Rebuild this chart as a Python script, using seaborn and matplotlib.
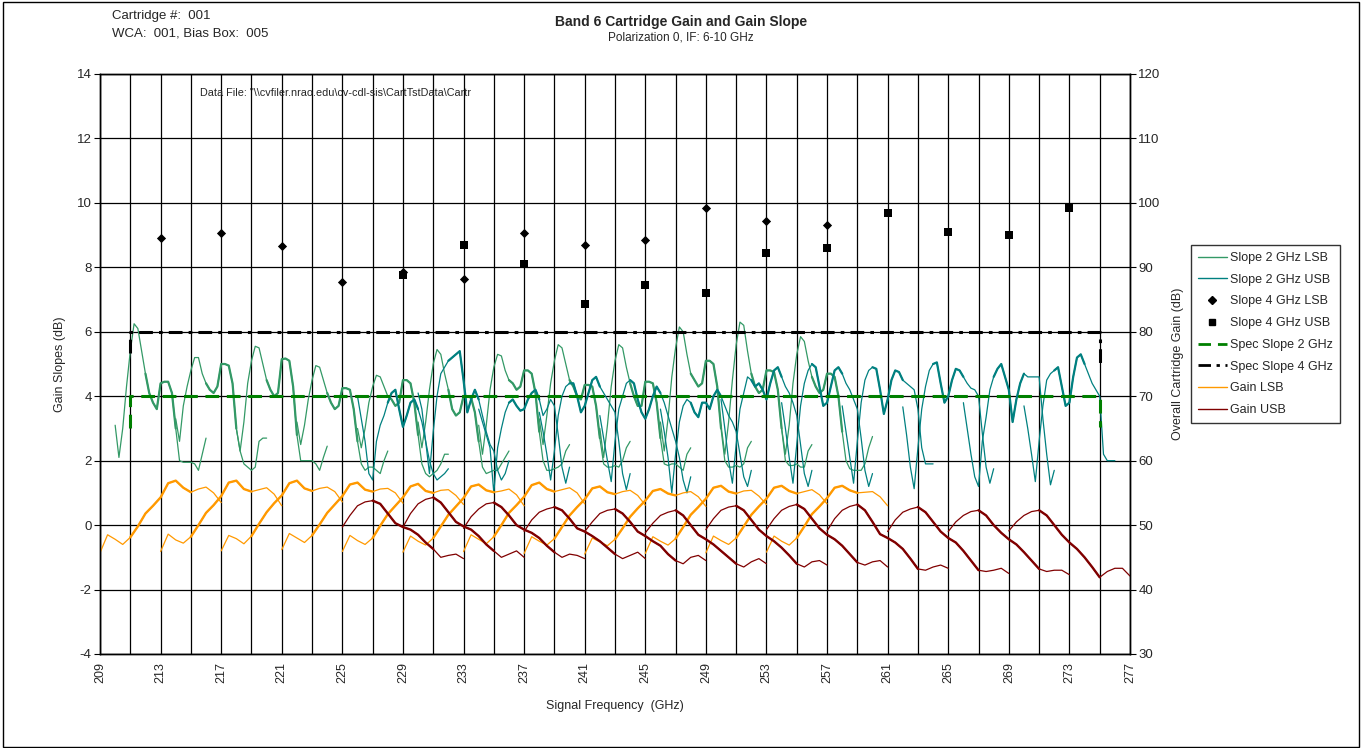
import pandas as pd
import seaborn as sns
import matplotlib.pyplot as plt
from matplotlib.lines import Line2D
from matplotlib.patches import Rectangle

sns.set_style('white')
plt.rcParams['font.family'] = ['Liberation Sans', 'DejaVu Sans']
plt.rcParams['axes.unicode_minus'] = False

# LO settings (GHz); LSB = LO - IF, USB = LO + IF
lo_ghz = [221, 225, 229, 233, 237, 241, 245, 249, 253, 257, 261, 265]

# IF points, listed so that the signal frequency increases along each list
if_gain_lsb = [12.0, 11.5, 11.0, 10.5, 10.0, 9.5, 9.0, 8.5, 8.0, 7.5, 7.0, 6.5, 6.0, 5.5, 5.0, 4.5, 4.0]
if_gain_usb = [4.0, 4.5, 5.0, 5.5, 6.0, 6.5, 7.0, 7.5, 8.0, 8.5, 9.0, 9.5, 10.0, 10.5, 11.0, 11.5, 12.0]
if_slope_lsb = [11.0, 10.75, 10.5, 10.25, 10.0, 9.75, 9.5, 9.25, 9.0, 8.75, 8.5, 8.25, 8.0,
                7.75, 7.5, 7.25, 7.0, 6.75, 6.5, 6.25, 6.0, 5.75, 5.5, 5.25, 5.0]
if_slope_usb = [5.0, 5.25, 5.5, 5.75, 6.0, 6.25, 6.5, 6.75, 7.0, 7.25, 7.5, 7.75, 8.0,
                8.25, 8.5, 8.75, 9.0, 9.25, 9.5, 9.75, 10.0, 10.25, 10.5, 10.75, 11.0]

# overall cartridge gain (dB), one list per LO
gain_lsb = [
    [45.7, 48.5, 47.8, 47.0, 48.1, 49.8, 51.8, 53.0, 54.3, 56.5, 56.9, 55.8, 55.1, 55.6, 55.9, 55.0, 53.5],
    [45.9, 48.6, 47.7, 47.2, 48.2, 50.0, 51.9, 53.1, 54.5, 56.6, 56.9, 55.6, 55.2, 55.5, 55.8, 54.8, 53.0],
    [46.0, 48.4, 47.9, 47.1, 48.3, 50.2, 52.0, 53.4, 54.6, 56.5, 56.9, 55.7, 55.3, 55.7, 55.9, 55.2, 53.6],
    [46.2, 48.7, 48.0, 47.3, 48.4, 50.1, 51.9, 53.2, 54.5, 56.3, 56.6, 55.5, 55.2, 55.6, 55.7, 55.0, 53.4],
    [45.9, 48.4, 47.6, 47.0, 48.0, 49.9, 51.7, 53.0, 54.3, 56.0, 56.4, 55.3, 55.0, 55.4, 55.5, 54.6, 53.2],
    [45.8, 48.3, 47.5, 46.9, 48.0, 49.8, 51.6, 52.9, 54.2, 56.0, 56.3, 55.4, 55.1, 55.3, 55.6, 54.7, 53.0],
    [45.9, 48.5, 47.8, 47.1, 48.2, 50.0, 51.9, 53.1, 54.4, 56.2, 56.6, 55.6, 55.2, 55.5, 55.8, 55.0, 53.3],
    [45.6, 48.2, 47.5, 46.9, 47.9, 49.7, 51.5, 52.8, 54.0, 55.7, 56.0, 55.1, 54.8, 55.2, 55.4, 54.6, 53.1],
    [45.5, 48.0, 47.4, 46.8, 47.8, 49.5, 51.3, 52.6, 53.8, 55.3, 55.6, 54.9, 54.6, 55.0, 55.2, 54.4, 52.9],
    [45.6, 48.2, 47.5, 46.9, 47.9, 49.7, 51.6, 52.8, 54.1, 55.8, 56.1, 55.2, 54.9, 55.3, 55.4, 54.5, 53.2],
    [45.7, 48.3, 47.6, 47.0, 48.0, 49.8, 51.6, 52.9, 54.1, 55.8, 56.1, 55.3, 54.9, 55.2, 55.5, 54.7, 53.3],
    [45.8, 48.3, 47.5, 46.9, 48.0, 49.8, 51.7, 52.9, 54.2, 55.8, 56.1, 55.4, 55.0, 55.1, 55.2, 54.4, 53.0],
]
gain_usb = [
    [49.7, 51.5, 53.0, 53.6, 53.8, 53.3, 51.8, 50.3, 49.7, 49.3, 48.5, 47.3, 46.3, 45.0, 45.3, 45.5, 44.8],
    [49.7, 51.8, 53.3, 54.0, 54.3, 53.5, 52.0, 50.5, 49.8, 49.3, 48.3, 47.0, 46.0, 45.0, 45.5, 46.0, 45.0],
    [49.5, 51.3, 52.5, 53.3, 53.5, 52.8, 51.5, 50.0, 49.3, 48.8, 48.0, 46.8, 45.8, 45.0, 45.5, 45.3, 44.8],
    [49.0, 50.8, 52.0, 52.5, 52.8, 52.3, 51.0, 49.5, 49.0, 48.3, 47.5, 46.5, 45.5, 44.8, 45.3, 45.8, 44.8],
    [49.0, 50.5, 51.8, 52.3, 52.5, 51.8, 50.5, 49.0, 48.3, 47.5, 46.8, 45.5, 44.5, 44.0, 45.0, 45.3, 44.5],
    [48.8, 50.3, 51.5, 52.0, 52.3, 51.5, 50.0, 48.5, 47.8, 47.0, 46.0, 45.0, 44.0, 43.5, 44.3, 44.8, 44.0],
    [49.3, 51.0, 52.3, 52.8, 53.0, 52.3, 50.8, 49.3, 48.3, 47.5, 46.5, 45.3, 44.0, 43.5, 44.3, 44.5, 43.8],
    [49.3, 51.0, 52.3, 52.9, 53.2, 52.5, 51.0, 49.5, 48.5, 47.8, 46.8, 45.5, 44.2, 43.8, 44.3, 44.5, 43.5],
    [49.1, 51.0, 52.3, 52.9, 53.2, 52.3, 50.5, 48.6, 48.0, 47.3, 46.3, 44.8, 43.2, 43.0, 43.5, 43.8, 43.3],
    [49.0, 50.8, 52.0, 52.5, 52.8, 52.0, 50.5, 49.0, 48.0, 47.3, 46.0, 44.5, 43.0, 42.8, 43.0, 43.3, 42.5],
    [49.0, 50.5, 51.5, 52.1, 52.3, 51.5, 50.0, 48.8, 47.8, 47.0, 45.8, 44.5, 43.2, 42.8, 43.0, 43.0, 42.3],
    [49.1, 50.5, 51.5, 52.1, 52.3, 51.5, 50.0, 48.5, 47.3, 46.3, 45.0, 43.5, 41.9, 42.8, 43.3, 43.3, 42.1],
]

# gain slope over 2 GHz (dB), one list per LO
slope2_lsb = [
    [3.1, 2.1, 3.0, 4.3, 5.4, 6.25, 6.1, 5.4, 4.7, 4.1, 3.8, 3.6, 4.4, 4.45, 4.45, 4.1, 3.0, 2.0, 1.95, 1.95, 1.95, 1.9, 1.7, 2.2, 2.7],
    [3.3, 2.6, 3.7, 4.3, 4.8, 5.2, 5.2, 4.7, 4.4, 4.2, 4.1, 4.3, 5.0, 5.0, 4.95, 4.4, 3.0, 2.3, 1.9, 1.8, 1.7, 1.8, 2.6, 2.7, 2.7],
    [3.0, 2.3, 3.2, 4.4, 5.1, 5.55, 5.5, 5.0, 4.5, 4.2, 4.0, 4.1, 5.15, 5.17, 5.1, 4.3, 2.8, 2.0, 2.0, 2.0, 2.0, 1.9, 1.7, 2.1, 2.45],
    [3.2, 2.5, 3.1, 3.9, 4.5, 4.95, 4.9, 4.5, 4.1, 3.8, 3.6, 3.7, 4.25, 4.25, 4.2, 3.6, 2.6, 1.9, 1.7, 1.8, 1.8, 1.7, 1.6, 2.0, 2.3],
    [3.0, 2.4, 3.0, 3.8, 4.3, 4.65, 4.6, 4.3, 4.0, 3.9, 3.7, 3.8, 4.5, 4.5, 4.4, 3.8, 2.8, 1.9, 1.6, 1.5, 1.6, 1.7, 1.9, 2.2, 2.2],
    [3.2, 2.4, 3.2, 4.2, 5.0, 5.45, 5.3, 4.7, 4.2, 3.6, 3.4, 3.5, 4.0, 4.0, 3.95, 3.5, 2.6, 1.8, 1.6, 1.65, 1.7, 1.7, 1.9, 2.1, 2.3],
    [3.1, 2.2, 3.1, 4.2, 4.9, 5.3, 5.25, 4.8, 4.5, 4.4, 4.2, 4.3, 4.8, 4.8, 4.7, 4.1, 2.9, 2.0, 1.7, 1.7, 1.75, 1.8, 1.9, 2.3, 2.5],
    [3.3, 2.5, 3.4, 4.4, 5.1, 5.6, 5.5, 5.0, 4.5, 4.3, 4.0, 3.9, 4.35, 4.35, 4.3, 3.7, 2.7, 1.9, 1.8, 1.8, 1.85, 1.8, 2.0, 2.4, 2.6],
    [3.0, 2.1, 3.1, 4.3, 5.1, 5.6, 5.5, 4.9, 4.4, 4.0, 3.7, 3.7, 4.45, 4.45, 4.4, 3.8, 2.7, 1.9, 1.85, 1.9, 1.9, 1.8, 1.7, 2.2, 2.4],
    [3.2, 2.3, 3.3, 4.6, 5.5, 6.15, 6.0, 5.3, 4.7, 4.5, 4.3, 4.4, 5.1, 5.1, 5.0, 4.3, 3.0, 2.0, 1.8, 1.8, 1.85, 1.8, 1.9, 2.4, 2.6],
    [3.1, 2.2, 3.2, 4.5, 5.6, 6.3, 6.2, 5.4, 4.7, 4.3, 4.1, 4.2, 4.8, 4.8, 4.75, 4.2, 3.0, 2.0, 1.85, 1.85, 1.9, 1.8, 1.8, 2.3, 2.5],
    [3.0, 2.2, 3.1, 4.4, 5.3, 5.85, 5.7, 5.1, 4.6, 4.3, 4.1, 4.2, 4.7, 4.7, 4.6, 4.0, 2.9, 2.0, 1.75, 1.7, 1.7, 1.7, 1.9, 2.4, 2.75],
]
slope2_usb = [
    [4.0, 3.3, 2.6, 1.6, 1.4, 2.6, 3.1, 3.4, 3.8, 4.1, 4.2, 3.6, 3.05, 3.4, 3.8, 3.9, 3.6, 3.2, 2.6, 2.0, 1.6, 1.4, 1.5, 1.6, 1.75],
    [4.1, 3.6, 2.6, 1.6, 2.9, 4.0, 4.7, 4.9, 5.1, 5.2, 5.3, 5.4, 4.5, 3.5, 3.9, 4.2, 3.9, 3.4, 2.9, 2.5, 2.3, 1.7, 1.4, 1.6, 2.0],
    [3.6, 3.2, 2.8, 2.4, 1.0, 2.4, 3.0, 3.5, 3.8, 3.9, 3.7, 3.55, 3.6, 3.9, 4.1, 4.2, 3.9, 3.4, 3.6, 3.9, 3.7, 2.8, 1.8, 1.3, 1.8],
    [3.5, 2.9, 2.2, 1.4, 2.3, 3.4, 4.0, 4.3, 4.4, 4.4, 4.0, 3.5, 3.7, 4.1, 4.5, 4.6, 4.3, 4.1, 3.9, 3.7, 3.5, 2.6, 1.6, 1.1, 1.6],
    [3.4, 2.7, 2.0, 1.35, 2.6, 3.6, 4.0, 4.4, 4.5, 4.4, 3.9, 3.5, 3.3, 3.6, 4.0, 4.3, 4.1, 3.8, 3.4, 3.0, 2.6, 2.1, 1.4, 1.0, 1.5],
    [3.6, 2.9, 2.1, 1.0, 2.2, 3.2, 3.7, 3.9, 3.8, 3.5, 3.35, 3.8, 3.8, 3.6, 4.0, 4.2, 4.0, 3.7, 3.4, 3.2, 2.9, 2.2, 1.5, 1.2, 1.7],
    [3.9, 3.0, 2.0, 1.3, 2.5, 3.6, 4.1, 4.6, 4.5, 4.3, 4.4, 4.2, 3.9, 4.4, 4.8, 4.9, 4.6, 4.3, 4.1, 3.8, 3.4, 2.5, 1.6, 1.2, 1.7],
    [3.8, 3.0, 2.1, 1.3, 2.5, 3.7, 4.4, 4.8, 5.0, 4.9, 4.3, 3.7, 3.8, 4.3, 4.8, 4.9, 4.7, 4.4, 4.2, 3.9, 3.6, 2.7, 1.7, 1.2, 1.6],
    [3.7, 2.9, 2.1, 1.3, 2.6, 3.8, 4.5, 4.8, 4.9, 4.85, 4.2, 3.45, 3.9, 4.5, 4.8, 4.75, 4.5, 4.4, 4.3, 4.2, 3.6, 2.4, 1.9, 1.9, 1.9],
    [3.67, 2.8, 1.8, 1.13, 2.4, 3.6, 4.3, 4.8, 5.0, 5.05, 4.4, 3.8, 4.0, 4.5, 4.85, 4.8, 4.6, 4.4, 4.25, 4.2, 4.0, 2.85, 1.8, 1.3, 1.75],
    [3.8, 3.0, 2.2, 1.5, 1.2, 2.6, 3.35, 4.2, 4.6, 4.85, 5.0, 4.6, 4.2, 3.2, 3.9, 4.4, 4.7, 4.6, 4.6, 4.6, 4.6, 3.3, 2.2, 1.25, 1.7],
    [3.7, 3.0, 2.2, 1.35, 2.6, 3.7, 4.5, 4.7, 4.8, 4.9, 4.3, 3.7, 3.8, 4.6, 5.2, 5.3, 5.0, 4.7, 4.4, 4.2, 4.0, 2.2, 2.0, 2.0, 2.0],
]

# gain slope over 4 GHz (dB), one value per LO (at IF 8 GHz)
slope4_lsb = [8.9, 9.05, 8.65, 7.55, 7.85, 7.65, 9.05, 8.7, 8.85, 9.85, 9.45, 9.3]
slope4_usb = [7.75, 8.7, 8.1, 6.85, 7.45, 7.2, 8.45, 8.6, 9.7, 9.1, 9.0, 9.85]
slope4_if = 8.0

# spec lines
spec2_x = [211, 211, 275, 275]
spec2_y = [3.0, 4.0, 4.0, 3.05]
spec4_x = [211, 211, 275, 275]
spec4_y = [5.35, 6.0, 6.0, 5.0]

xticks = list(range(209, 278, 4))
xgrid = list(range(211, 276, 4))


def long_table(values, if_list, sign):
    rows = []
    for lo, vals in zip(lo_ghz, values):
        for f, v in zip(if_list, vals):
            rows.append({'lo': lo, 'if': f, 'rf': lo + sign * f, 'val': v})
    return pd.DataFrame(rows)


def draw(ax, df, color, band, lw_thin, lw_thick):
    # whole sweep thin, the in-band part drawn again thicker
    sns.lineplot(data=df, x='rf', y='val', units='lo', estimator=None, sort=False,
                 color=color, lw=lw_thin, ax=ax, legend=False)
    sub = df[(df['if'] >= band[0]) & (df['if'] <= band[1])]
    sns.lineplot(data=sub, x='rf', y='val', units='lo', estimator=None, sort=False,
                 color=color, lw=lw_thick, ax=ax, legend=False)


c_s_lsb, c_s_usb = '#339966', '#008080'
c_g_lsb, c_g_usb = '#FF9900', '#800000'
ls_spec2 = (0, (4.5, 2.5))
ls_spec4 = (0, (4.5, 2, 1.2, 2))

fig = plt.figure(figsize=(13.62, 7.48), dpi=100)
ax = fig.add_axes([100 / 1362, 1 - 654 / 748, 1030 / 1362, 580 / 748])
ax2 = ax.twinx()

draw(ax, long_table(slope2_lsb, if_slope_lsb, -1), c_s_lsb, (7, 9), 0.9, 1.6)
draw(ax, long_table(slope2_usb, if_slope_usb, 1), c_s_usb, (7, 9), 0.9, 1.6)

ax.plot(spec2_x, spec2_y, color='#008000', lw=2.2, ls=ls_spec2)
ax.plot(spec4_x, spec4_y, color='black', lw=2.2, ls=ls_spec4)

s4 = pd.DataFrame({'rf': [lo - slope4_if for lo in lo_ghz], 'val': slope4_lsb})
sns.scatterplot(data=s4, x='rf', y='val', marker='D', s=22, color='black',
                edgecolor='black', linewidth=0, ax=ax, legend=False, zorder=5)
s4u = pd.DataFrame({'rf': [lo + slope4_if for lo in lo_ghz], 'val': slope4_usb})
sns.scatterplot(data=s4u, x='rf', y='val', marker='s', s=28, color='black',
                edgecolor='black', linewidth=0, ax=ax, legend=False, zorder=5)

draw(ax2, long_table(gain_lsb, if_gain_lsb, -1), c_g_lsb, (6, 10), 0.9, 1.7)
draw(ax2, long_table(gain_usb, if_gain_usb, 1), c_g_usb, (6, 10), 0.9, 1.7)

ax.set_xlim(209, 277)
ax.set_ylim(-4, 14)
ax2.set_ylim(30, 120)
ax.set_xticks(xticks)
ax.set_xticks(xgrid, minor=True)
ax.set_yticks(range(-4, 15, 2))
ax2.set_yticks(range(30, 121, 10))
ax.grid(axis='x', which='both', color='black', lw=0.9)
ax.grid(axis='y', which='major', color='black', lw=0.9)
ax.set_axisbelow(True)
ax.tick_params(axis='x', which='major', labelrotation=90, length=4, width=0.8,
               color='black', labelsize=9, pad=2)
ax.tick_params(axis='x', which='minor', length=0)
ax.tick_params(axis='y', length=4, width=0.8, color='black', labelsize=9.5, pad=2)
ax2.tick_params(axis='y', length=4, width=0.8, color='black', labelsize=9.5, pad=2)
for a in (ax, ax2):
    for sp in a.spines.values():
        sp.set_color('black')
        sp.set_linewidth(1.0)

ax.set_xlabel('Signal Frequency  (GHz)', fontsize=9, labelpad=12)
ax.set_ylabel('Gain Slopes (dB)', fontsize=9, labelpad=8)
ax2.set_ylabel('Overall Cartridge Gain (dB)', fontsize=9, labelpad=8)

fig.text(0.5, 1 - 22 / 748, 'Band 6 Cartridge Gain and Gain Slope', ha='center',
         va='center', fontsize=10, fontweight='bold')
fig.text(0.5, 1 - 38 / 748, 'Polarization 0, IF: 6-10 GHz', ha='center',
         va='center', fontsize=8.5)
fig.text(112 / 1362, 1 - 16 / 748, 'Cartridge #:  001', va='center', fontsize=9.5)
fig.text(112 / 1362, 1 - 33 / 748, 'WCA:  001, Bias Box:  005', va='center', fontsize=9.5)
ax.text(0.097, 0.967, 'Data File: "\\\\cvfiler.nrao.edu\\cv-cdl-sis\\CartTstData\\Cartr',
        transform=ax.transAxes, va='center', fontsize=7.8)

handles = [
    Line2D([], [], color=c_s_lsb, lw=1.0),
    Line2D([], [], color=c_s_usb, lw=1.0),
    Line2D([], [], color='black', marker='D', ms=4, ls='none'),
    Line2D([], [], color='black', marker='s', ms=4.5, ls='none'),
    Line2D([], [], color='#008000', lw=2, ls=ls_spec2),
    Line2D([], [], color='black', lw=2, ls=ls_spec4),
    Line2D([], [], color=c_g_lsb, lw=1.0),
    Line2D([], [], color=c_g_usb, lw=1.0),
]
labels = ['Slope 2 GHz LSB', 'Slope 2 GHz USB', 'Slope 4 GHz LSB', 'Slope 4 GHz USB',
          'Spec Slope 2 GHz', 'Spec Slope 4 GHz', 'Gain LSB', 'Gain USB']
leg = fig.legend(handles, labels, loc='upper left', bbox_to_anchor=(1191 / 1362, 1 - 245 / 748),
                 fontsize=9, frameon=True, fancybox=False, handlelength=2.3,
                 labelspacing=0.78, borderpad=0.55, handletextpad=0.25, borderaxespad=0)
leg.get_frame().set_edgecolor('black')
leg.get_frame().set_linewidth(1.0)

fig.patches.append(Rectangle((0.002, 0.002), 0.996, 0.995, transform=fig.transFigure,
                             fill=False, ec='black', lw=1.0))

fig.savefig('out.png', dpi=100)
